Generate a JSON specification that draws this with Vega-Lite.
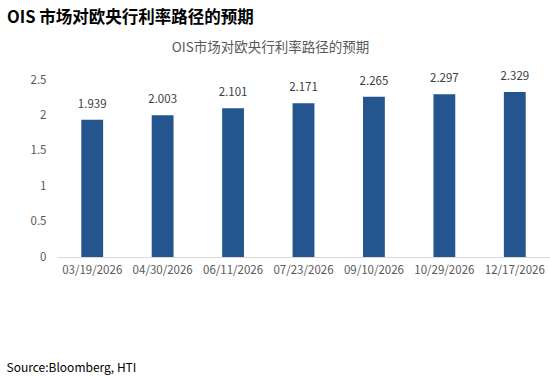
{
  "$schema": "https://vega.github.io/schema/vega-lite/v6.json",
  "autosize": "none",
  "width": 493,
  "height": 177,
  "padding": {"left": 57, "top": 80, "right": 0, "bottom": 119},
  "background": "white",
  "title": {
    "text": "OIS 市场对欧央行利率路径的预期",
    "anchor": "start",
    "frame": "group",
    "font": "Noto Sans CJK SC",
    "fontSize": 16.5,
    "fontWeight": "bold",
    "color": "#000000",
    "dx": -50,
    "offset": 14
  },
  "data": {
    "values": [
      {"date": "03/19/2026", "rate": 1.939},
      {"date": "04/30/2026", "rate": 2.003},
      {"date": "06/11/2026", "rate": 2.101},
      {"date": "07/23/2026", "rate": 2.171},
      {"date": "09/10/2026", "rate": 2.265},
      {"date": "10/29/2026", "rate": 2.297},
      {"date": "12/17/2026", "rate": 2.329}
    ]
  },
  "encoding": {
    "x": {
      "field": "date",
      "type": "nominal",
      "sort": null,
      "scale": {"paddingInner": 0.69, "paddingOuter": 0.345},
      "axis": {
        "title": "Source:Bloomberg, HTI",
        "titleFont": "Noto Sans CJK SC",
        "titleFontSize": 12,
        "titleFontWeight": "normal",
        "titleColor": "#000000",
        "titleAnchor": "start",
        "titleAlign": "left",
        "titleBaseline": "alphabetic",
        "titleX": -51,
        "titleY": 114,
        "labelAngle": 0,
        "labelFont": "Noto Sans CJK SC",
        "labelFontSize": 11.5,
        "labelColor": "#595959",
        "labelPadding": 7,
        "ticks": false,
        "domainColor": "#D9D9D9",
        "domainWidth": 1
      }
    },
    "y": {
      "field": "rate",
      "type": "quantitative",
      "scale": {"domain": [0, 2.5]},
      "axis": {
        "title": "OIS市场对欧央行利率路径的预期",
        "titleFont": "Noto Sans CJK SC",
        "titleFontSize": 13.5,
        "titleFontWeight": "normal",
        "titleColor": "#595959",
        "titleAngle": 0,
        "titleAlign": "center",
        "titleBaseline": "middle",
        "titleX": 213,
        "titleY": -33,
        "values": [0, 0.5, 1, 1.5, 2, 2.5],
        "format": "~g",
        "labelFont": "Noto Sans CJK SC",
        "labelFontSize": 11.5,
        "labelColor": "#595959",
        "labelPadding": 11,
        "ticks": false,
        "domain": false,
        "grid": false
      }
    }
  },
  "layer": [
    {"mark": {"type": "bar", "color": "#24558F"}},
    {
      "mark": {"type": "text", "dy": -10, "font": "Noto Sans CJK SC", "fontSize": 11.5, "color": "#404040", "baseline": "bottom"},
      "encoding": {"text": {"field": "rate", "type": "quantitative", "format": ".3f"}}
    }
  ],
  "config": {"view": {"stroke": null}}
}
